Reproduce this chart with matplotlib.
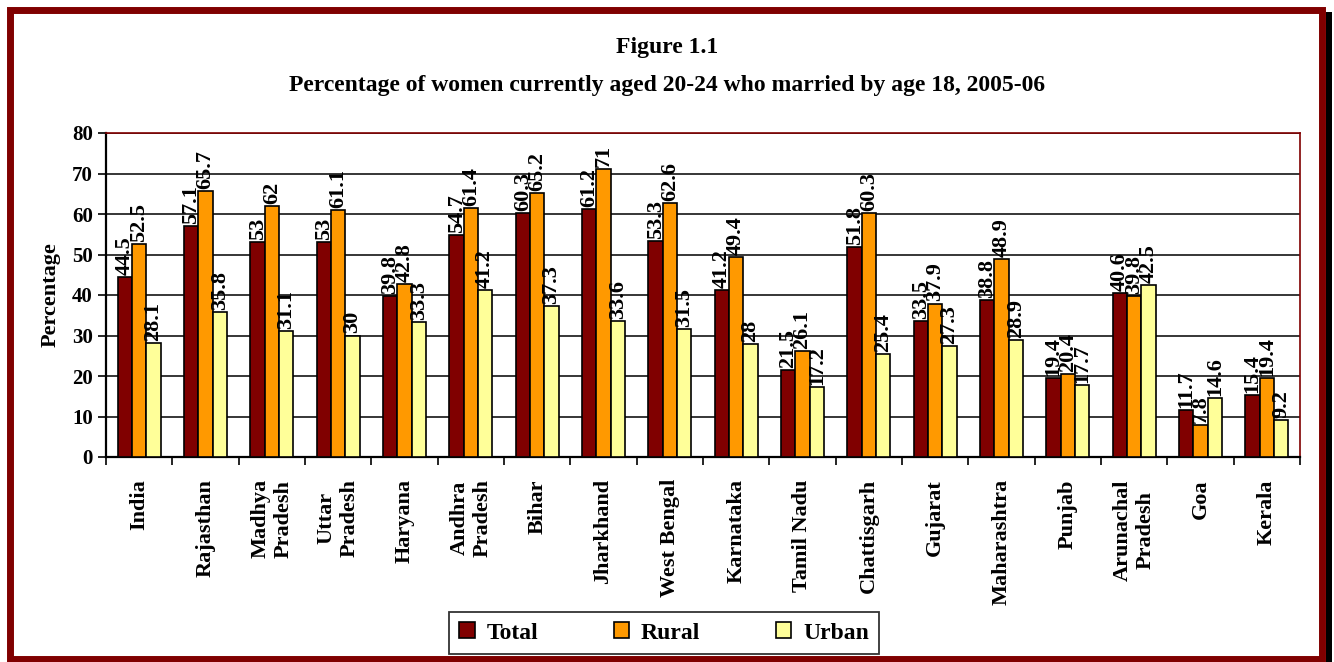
import matplotlib.pyplot as plt
import numpy as np
from matplotlib.patches import Rectangle

# Data
states = ["India", "Rajasthan", "Madhya\nPradesh", "Uttar\nPradesh", "Haryana",
          "Andhra\nPradesh", "Bihar", "Jharkhand", "West Bengal", "Karnataka",
          "Tamil Nadu", "Chattisgarh", "Gujarat", "Maharashtra", "Punjab",
          "Arunachal\nPradesh", "Goa", "Kerala"]
total = [44.5, 57.1, 53, 53, 39.8, 54.7, 60.3, 61.2, 53.3, 41.2, 21.5, 51.8, 33.5, 38.8, 19.4, 40.6, 11.7, 15.4]
rural = [52.5, 65.7, 62, 61.1, 42.8, 61.4, 65.2, 71, 62.6, 49.4, 26.1, 60.3, 37.9, 48.9, 20.4, 39.8, 7.8, 19.4]
urban = [28.1, 35.8, 31.1, 30, 33.3, 41.2, 37.3, 33.6, 31.5, 28, 17.2, 25.4, 27.3, 28.9, 17.7, 42.5, 14.6, 9.2]

series = [("Total", total, "#800000"), ("Rural", rural, "#FF9900"), ("Urban", urban, "#FFFF99")]

plt.rcParams["font.family"] = ["Liberation Serif", "DejaVu Serif"]
plt.rcParams["font.weight"] = "bold"

W, H = 1334, 662
fig = plt.figure(figsize=(W / 100, H / 100), dpi=100)
ax = fig.add_axes([106 / W, 1 - 457 / H, (1300 - 106) / W, (457 - 133) / H])

x = np.arange(len(states))
bw = 0.215
handles = []
for i, (name, vals, col) in enumerate(series):
    pos = x + (i - 1) * bw
    b = ax.bar(pos, vals, bw, color=col, edgecolor="black", linewidth=1.2, label=name, zorder=3)
    handles.append(b)
    for px, v in zip(pos, vals):
        ax.text(px, v + 0.5, f"{v:g}", rotation=90, ha="center", va="bottom",
                fontsize=16, fontweight="bold", zorder=4)

ax.set_xlim(-0.5, len(states) - 0.5)
ax.set_ylim(0, 80)
ax.set_yticks(range(0, 81, 10))
ax.yaxis.grid(True, color="black", linewidth=1.1, zorder=0)
ax.tick_params(axis="y", labelsize=15, length=6, width=1.2, direction="out")

ax.set_xticks(x)
ax.set_xticklabels(states, rotation=90, ha="center", va="top", multialignment="center",
                   fontsize=16, fontweight="bold")
ax.tick_params(axis="x", length=0, pad=16)
ax.set_xticks(np.arange(-0.5, len(states) + 0.5, 1), minor=True)
ax.tick_params(axis="x", which="minor", length=6, width=1.2, direction="out")

for s in ["top", "right"]:
    ax.spines[s].set_color("#800000")
    ax.spines[s].set_linewidth(1.2)
for s in ["left", "bottom"]:
    ax.spines[s].set_color("black")
    ax.spines[s].set_linewidth(1.6)

ax.set_ylabel("Percentage", fontsize=16, fontweight="bold", labelpad=8)

fig.text(0.5, 1 - 47 / H, "Figure 1.1", ha="center", va="center", fontsize=17, fontweight="bold")
fig.text(0.5, 1 - 86 / H, "Percentage of women currently aged 20-24 who married by age 18, 2005-06",
         ha="center", va="center", fontsize=17, fontweight="bold")

leg = fig.legend(handles=handles, loc="center", bbox_to_anchor=(664 / W, 1 - 633 / H),
                 ncol=3, fontsize=17, frameon=True, fancybox=False, edgecolor="black",
                 handlelength=0.65, handleheight=0.65, handletextpad=0.5,
                 columnspacing=3.2, borderpad=0.45)
leg.get_frame().set_linewidth(1.3)

# outer frame with shadow
fig.patches.append(Rectangle((1326 / W, 0), 6 / W, 1 - 12 / H, transform=fig.transFigure,
                             facecolor="black", edgecolor="none", zorder=0))
fig.patches.append(Rectangle((10 / W, 1 - 659 / H), 1312 / W, (659 - 10) / H, transform=fig.transFigure,
                             facecolor="none", edgecolor="#800000", linewidth=5, zorder=5))

fig.savefig("out.png", dpi=100)
